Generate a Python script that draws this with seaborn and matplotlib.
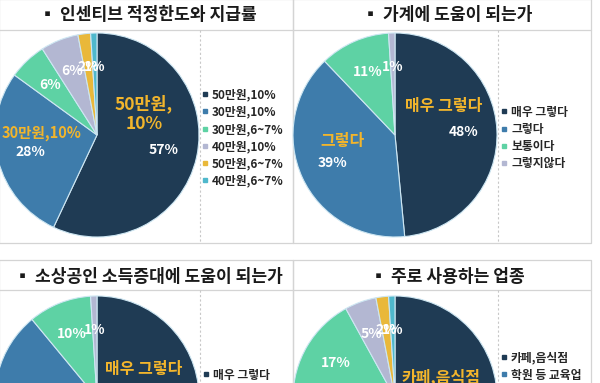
import matplotlib
matplotlib.use("Agg")
import matplotlib.pyplot as plt
from matplotlib.lines import Line2D
import seaborn as sns

# ─────────────────────────────────────────────
# Data
# ─────────────────────────────────────────────
titles = ["인센티브 적정한도와 지급률", "가계에 도움이 되는가",
          "소상공인 소득증대에 도움이 되는가", "주로 사용하는 업종"]

limit_labels = ["50만원,10%", "30만원,10%", "30만원,6~7%", "40만원,10%", "50만원,6~7%", "40만원,6~7%"]
limit_values = [57, 28, 6, 6, 2, 1]

household_labels = ["매우 그렇다", "그렇다", "보통이다", "그렇지않다"]
household_values = [48, 39, 11, 1]

income_labels = ["매우 그렇다", "그렇다", "보통이다", "그렇지않다"]
income_values = [49, 40, 10, 1]

sector_labels = ["카페,음식점", "학원 등 교육업", "병원,약국", "마트,편의점", "미용실", "기타"]
sector_values = [52, 23, 17, 5, 2, 1]

# gold category names drawn on the big slices
limit_names = ["50만원,\n10%", "30만원,10%"]
household_names = ["매우 그렇다", "그렇다"]
income_names = ["매우 그렇다", "그렇다"]
sector_names = ["카페,음식점", "학원 등\n교육업"]

palette = sns.color_palette(["#1f3b54", "#3e7cab", "#5ed2a4", "#b3b7d2", "#e9b83a", "#4fb8cc"])
GOLD = "#f2b52c"

sns.set_theme(style="white")
plt.rcParams["font.family"] = ["Noto Sans CJK KR", "DejaVu Sans"]

W, H = 600, 383
fig = plt.figure(figsize=(W / 100, H / 100), dpi=100)


def px_axes(left, top, w, h):
    return fig.add_axes([left / W, 1 - (top + h) / H, w / W, h / H])


# background frame (pixel coordinates)
bg = px_axes(0, 0, W, H)
bg.set_xlim(0, W)
bg.set_ylim(H, 0)
bg.axis("off")
frame_kw = dict(color="#d4d4d4", lw=0.9)
for top, bottom in [(-1, 243), (260, 400)]:
    title_y = top + 30 if top > 0 else 30
    for x0, x1 in [(-1, 293), (293, 591)]:
        bg.plot([x0, x1, x1, x0, x0], [top, top, bottom, bottom, top], **frame_kw)
        bg.plot([x0, x1], [title_y, title_y], **frame_kw)
    for xd in (200, 498):
        bg.plot([xd, xd], [title_y, bottom], color="#c8c8c8", lw=0.8, ls=(0, (2, 2)))

# panel layout: (title centre x, title y, pie centre x, pie centre y, legend x)
panels = [
    (148, 15, 97, 135, 202),
    (447, 15, 395, 135, 501),
    (148, 277, 97, 398, 203),
    (447, 277, 395, 398, 501),
]
charts = [
    (limit_labels, limit_values, limit_names, [(-20, 36, 12.5), (11, 19, 10.5)]),
    (household_labels, household_values, household_names, [(-20, 26, 11.5), (10, 22, 11.5)]),
    (income_labels, income_values, income_names, [(-22, 27, 11.5), (10, 23, 11.5)]),
    (sector_labels, sector_values, sector_names, [(-22, 25, 11.5), (10, 27, 11.5)]),
]
R = 102

for (tx, ty, cx, cy, lx), title, (labels, values, names, name_pos) in zip(panels, titles, charts):
    bg.text(tx, ty, "▪ " + title, ha="center", va="center", fontsize=12.3,
            fontweight="bold", color="#1a1a1a")

    ax = px_axes(cx - R, cy - R, 2 * R, 2 * R)
    colors = palette[:len(values)]
    wedges, _, pcts = ax.pie(values, colors=colors, startangle=90, counterclock=False,
                             autopct=lambda p: f"{p:.0f}%", pctdistance=0.67,
                             wedgeprops=dict(edgecolor="#cde6f2", linewidth=0.8),
                             textprops=dict(color="white", fontsize=10, fontweight="bold"))
    ax.set_xlim(-1, 1)
    ax.set_ylim(-1, 1)

    # gold category names above the percentage of the two largest slices
    for pct, name, (dx, dy, fs) in zip(pcts, names, name_pos):
        px, py = pct.get_position()
        ax.annotate(name, (px, py), xytext=(dx * 0.72, dy * 0.72), textcoords="offset points",
                    ha="center", va="center", color=GOLD, fontsize=fs, fontweight="bold",
                    linespacing=1.15, annotation_clip=False)

    handles = [Line2D([], [], marker="s", ls="", color=c, markersize=2.4) for c in colors]
    fig.legend(handles, labels, loc="center left", bbox_to_anchor=(lx / W, 1 - (cy + 3) / H),
               frameon=False, handlelength=0.5, handletextpad=0.35,
               labelspacing=0.36, borderpad=0, borderaxespad=0,
               prop=dict(weight="bold", size=8.5))

fig.savefig("out.png", dpi=100, facecolor="white")
